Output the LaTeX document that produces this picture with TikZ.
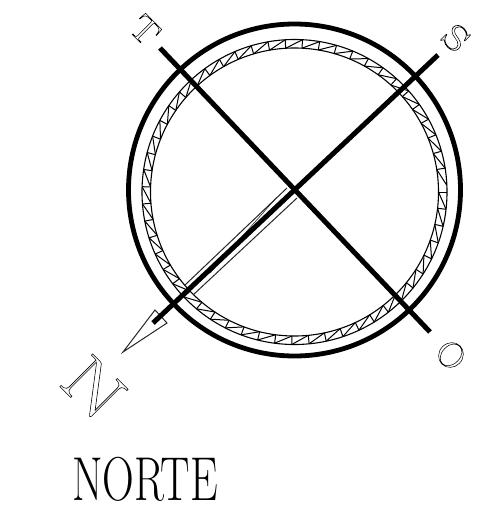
\documentclass[tikz,border=0pt]{standalone}
\usepackage{fontspec}
\usetikzlibrary{calc}
\newcommand{\hollow}[1]{\special{pdf:code q 1 Tr 0.5 w}#1\special{pdf:code Q}}
\tikzset{x=1pt,y=-1pt,
  ring/.style={draw=black,line width=4.8pt},
  band/.style={draw=black,line width=1.1pt},
  tick/.style={draw=black,line width=1pt},
  axisline/.style={draw=black,line width=5pt,line cap=butt},
  needle/.style={draw=black!85,line width=1pt,line join=miter},
  letter/.style={rotate=-45,inner sep=0pt,text=black}}
\begin{document}
\begin{tikzpicture}
  \useasboundingbox (0,0) rectangle (477,516);
  \coordinate (c) at (294.5,190);
  \coordinate (b) at (294.5,192);
  % rings
  \draw[ring] (c) circle (166);
  \draw[band] (b) circle (152.5);
  \draw[band] (b) circle (144);
  \foreach \a in {0,6.5,...,354}{
    \draw[tick] ($(b)+(\a:144)$) -- ($(b)+(\a:152.5)$);
    \draw[tick] ($(b)+(\a:144)$) -- ($(b)+(\a+6.5:152.5)$);
  }
  % needle
  \coordinate (tip) at (123,352);
  \coordinate (l) at (155,310);
  \coordinate (r) at (167,323);
  \draw[needle] (tip) -- (l) -- (r) -- cycle;
  \coordinate (n1) at (185,285);
  \coordinate (n2) at (287,188);
  \coordinate (n3) at (193,295);
  \coordinate (n4) at (297,198);
  \coordinate (n5) at (210,273);
  \coordinate (n6) at (277,197);
  \draw[needle] (n1) -- (n2);
  \draw[needle] (n3) -- (n4);
  \draw[needle,line width=0.6pt] (n5) -- (n6);
  % axes
  \coordinate (nw) at (160,48);
  \coordinate (se) at (430,332);
  \coordinate (ne) at (438,55);
  \coordinate (sw) at (153,323);
  \draw[axisline] (nw) -- (se);
  \draw[axisline] (ne) -- (sw);
  % letters
  \node[letter] (lt) at (145,30) {\scalebox{1.1}[1]{\fontsize{36}{36}\selectfont\hollow{T}}};
  \node[letter] (ls) at (456,38) {\scalebox{1.3}[1]{\fontsize{35}{35}\selectfont\hollow{S}}};
  \node[letter] (lo) at (451,355) {\scalebox{1.05}[1]{\fontsize{36}{36}\selectfont\hollow{O}}};
  \node[letter] (ln) at (94,388) {\scalebox{1.25}[1]{\fontsize{68}{68}\selectfont\hollow{N}}};
  \node[inner sep=0pt] (title) at (145,479) {\scalebox{0.71}[1]{\fontsize{62}{62}\selectfont NORTE}};
\end{tikzpicture}
\end{document}
